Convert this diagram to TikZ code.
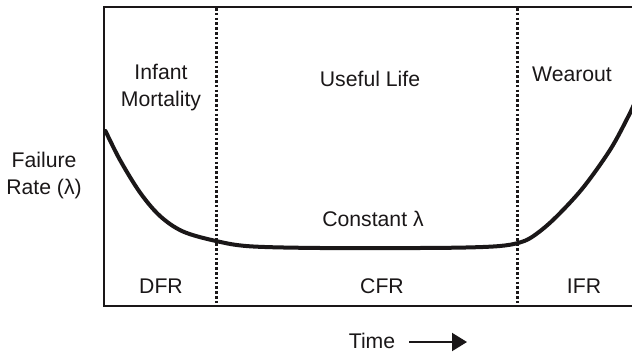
\documentclass[tikz,border=0pt]{standalone}
\usepackage{fontspec}
\setmainfont{Liberation Sans}
\usetikzlibrary{arrows.meta}
\definecolor{ink}{HTML}{1A1718}
\begin{document}
\begin{tikzpicture}[x=1pt, y=-1pt,
  lbl/.style={font=\fontsize{21.2}{27}\selectfont, text=ink, inner sep=0pt, align=center},
  frame/.style={draw=ink, line width=1.9pt},
  divider/.style={draw=ink, line width=3.4pt, dash pattern=on 2.6pt off 2.2pt},
  bathtub/.style={draw=ink, line width=4pt, line cap=round}]
\useasboundingbox (0,0) rectangle (632,353);
\clip (0,0) rectangle (632,353);

% axes frame (open to the right)
\draw[frame] (640,6.7) -- (104.3,6.7) -- (104.3,306) -- (640,306);

% phase boundaries
\coordinate (d1top) at (216.7,8);
\coordinate (d1bot) at (216.7,305);
\coordinate (d2top) at (517.5,8);
\coordinate (d2bot) at (517.5,305);
\draw[divider] (d1top) -- (d1bot);
\draw[divider] (d2top) -- (d2bot);

% bathtub curve
\draw[bathtub] plot[smooth, tension=0.55] coordinates {
  (105.5,131) (120,160) (140,192.5) (160,216) (183,231.5) (216,241)
  (250,246.3) (320,248) (420,248) (470,247.4) (500,246) (518,243)
  (532,237) (553,220) (582,189) (610,150) (628,117) (636,100)};

% region labels
\node[lbl] (infant) at (161,87.7) {Infant\\Mortality};
\node[lbl, anchor=base] (useful) at (370,86) {Useful Life};
\node[lbl, anchor=base] (wear) at (572,81.7) {Wearout};
\node[lbl, anchor=base] (const) at (373,226) {Constant \char"03BB};
\node[lbl] (rate) at (44,176) {Failure\\Rate (\char"03BB)};

% hazard classes
\node[lbl, anchor=base] (dfr) at (161,293) {DFR};
\node[lbl, anchor=base] (cfr) at (382,293) {CFR};
\node[lbl, anchor=base] (ifr) at (584,293) {IFR};

% time axis caption
\node[lbl, anchor=base] (time) at (372,348) {Time};
\coordinate (tend) at (467,342);
\draw[ink, line width=2pt, -{Triangle[length=15pt, width=18pt]}]
  ([xshift=14pt]time.east |- tend) -- (tend);
\end{tikzpicture}
\end{document}
